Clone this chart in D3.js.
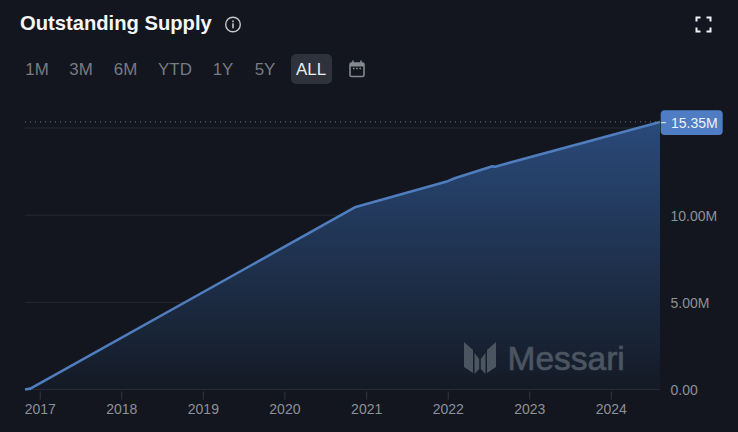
<!DOCTYPE html>
<html>
<head>
<meta charset="utf-8">
<script src="https://cdnjs.cloudflare.com/ajax/libs/d3/7.8.5/d3.min.js"></script>
<style>
  html, body { margin: 0; padding: 0; background: #13161e; overflow: hidden; }
  text { font-family: "Liberation Sans", Arial, sans-serif; }
</style>
</head>
<body>
<div id="container"></div>
<script>
// values
const dates = ["2016-10-27", "2016-11-20", "2020-11-15", "2022-01-01", "2022-02-01", "2022-07-20", "2022-08-01", "2024-08-08"];
const supply = [0, 0.05, 10.47, 11.95, 12.12, 12.8, 12.78, 15.35];
const yTicks = [0, 5, 10, 15];
const yLabels = ["0.00", "5.00M", "10.00M", ""];
const xYears = [2017, 2018, 2019, 2020, 2021, 2022, 2023, 2024];
const ranges = ["1M", "3M", "6M", "YTD", "1Y", "5Y", "ALL"];
const rangeX = [37, 81, 125.5, 175, 223, 265, 311];
const lastLabel = "15.35M";

const width = 738, height = 432;
const plotLeft = 25, plotRight = 660, plotBottom = 389.5;

let svg = d3.select("#container").append("svg").attr("width", width).attr("height", height).style("display", "block");
svg.append("rect").attr("width", width).attr("height", height).attr("fill", "#13161e");

let parse = d3.timeParse("%Y-%m-%d");
let data = dates.map((d, i) => ({ date: parse(d), v: supply[i] }));

let x = d3.scaleTime().domain([data[0].date, data[data.length - 1].date]).range([plotLeft, plotRight]);
let y = d3.scaleLinear().domain([0, 15]).range([plotBottom, 128]);

let defs = svg.append("defs");
let grad = defs.append("linearGradient").attr("id", "areaFill")
  .attr("gradientUnits", "userSpaceOnUse").attr("x1", 0).attr("x2", 0).attr("y1", y(15.35)).attr("y2", plotBottom);
grad.append("stop").attr("offset", "0%").attr("stop-color", "#2a4a7a");
grad.append("stop").attr("offset", "100%").attr("stop-color", "#141a25");

// title row
svg.append("text").attr("x", 20).attr("y", 30).attr("font-size", 20.2).attr("font-weight", 700)
  .attr("fill", "#f4f5f7").text("Outstanding Supply");

let info = svg.append("g").attr("transform", "translate(233,24.5)");
info.append("circle").attr("r", 7.3).attr("fill", "none").attr("stroke", "#c4c6cb").attr("stroke-width", 1.4);
info.append("rect").attr("x", -0.8).attr("y", -1.2).attr("width", 1.6).attr("height", 5).attr("fill", "#c4c6cb");
info.append("rect").attr("x", -0.8).attr("y", -4).attr("width", 1.6).attr("height", 1.7).attr("fill", "#c4c6cb");

// fullscreen corners
let corners = [[-1, -1], [1, -1], [-1, 1], [1, 1]];
svg.append("g").attr("transform", "translate(703.5,24.5)").selectAll("path").data(corners).join("path")
  .attr("d", d => `M${d[0] * 7},${d[1] * 3} V${d[1] * 7} H${d[0] * 3}`)
  .attr("fill", "none").attr("stroke", "#f0f1f3").attr("stroke-width", 2);

// range buttons
svg.append("rect").attr("x", 291).attr("y", 54).attr("width", 41).attr("height", 30).attr("rx", 5).attr("fill", "#2e323b");
svg.selectAll(".range").data(ranges).join("text").attr("class", "range")
  .attr("x", (d, i) => rangeX[i]).attr("y", 75).attr("text-anchor", "middle").attr("font-size", 16.9)
  .attr("fill", d => d == "ALL" ? "#eceef1" : "#777b84").text(d => d);

let cal = svg.append("g").attr("transform", "translate(357,69)").attr("fill", "none").attr("stroke", "#858990");
cal.append("rect").attr("x", -7).attr("y", -6).attr("width", 14).attr("height", 13.5).attr("rx", 1.5).attr("stroke-width", 1.6);
cal.append("rect").attr("x", -7).attr("y", -6).attr("width", 14).attr("height", 3.5).attr("fill", "#858990").attr("stroke", "none");
cal.append("path").attr("d", "M-4,-8.5 V-6 M4,-8.5 V-6").attr("stroke-width", 1.6);
cal.append("path").attr("d", "M-4,-0.5 H-2.4 M-0.8,-0.5 H0.8 M2.4,-0.5 H4").attr("stroke-width", 1.4);

// grid lines
svg.selectAll(".grid").data(yTicks).join("line").attr("class", "grid")
  .attr("x1", plotLeft).attr("x2", plotRight).attr("y1", d => y(d)).attr("y2", d => y(d))
  .attr("stroke", d => d == 0 ? "#3a3f48" : "#262a31").attr("stroke-width", 1);

// area and line
let area = d3.area().x(d => x(d.date)).y0(plotBottom).y1(d => y(d.v));
let line = d3.line().x(d => x(d.date)).y(d => y(d.v));
svg.append("path").datum(data).attr("d", area).attr("fill", "url(#areaFill)");

// dotted last value line
svg.append("line").attr("x1", plotLeft).attr("x2", plotRight).attr("y1", y(15.35)).attr("y2", y(15.35))
  .attr("stroke", "#6f7680").attr("stroke-width", 1).attr("stroke-dasharray", "1 4");

// watermark
let mark = svg.append("g").attr("transform", "translate(480,342)").attr("fill", "#4a5561");
[1, -1].forEach(s => {
  mark.append("path").attr("d", `M${s * -16},0 L${s * -7},8 V31 L${s * -16},25 Z`);
  mark.append("path").attr("d", `M${s * -5.5},11 L${s * -0.8},17 V27 L${s * -5.5},32 Z`);
});
svg.append("text").attr("x", 507.5).attr("y", 370).attr("font-size", 33.5).attr("font-weight", 400)
  .attr("fill", "#4a5561").attr("stroke", "#4a5561").attr("stroke-width", 0.7).text("Messari");

svg.append("path").datum(data).attr("d", line).attr("fill", "none")
  .attr("stroke", "#4f7dbd").attr("stroke-width", 2.6).attr("stroke-linejoin", "round");

// axes
let xAxis = svg.append("g").attr("transform", `translate(0,${plotBottom})`)
  .call(d3.axisBottom(x).tickValues(xYears.map(yr => new Date(yr, 0, 1))).tickFormat(d3.timeFormat("%Y")).tickSize(10).tickPadding(5));
xAxis.select(".domain").remove();
xAxis.selectAll("line").attr("y1", 2).attr("stroke", "#33373f");
xAxis.selectAll("text").attr("fill", "#8d9199").attr("font-size", 14).attr("font-family", "Liberation Sans");

let yAxis = svg.append("g").attr("transform", `translate(${plotRight},1)`)
  .call(d3.axisRight(y).tickValues(yTicks).tickFormat((d, i) => yLabels[i]).tickSize(0).tickPadding(10.5));
yAxis.select(".domain").remove();
yAxis.selectAll("text").attr("fill", "#8d9199").attr("font-size", 14).attr("font-family", "Liberation Sans");

// last value badge
let badgeY = y(15.35) + 0.8;
svg.append("rect").attr("x", 660.7).attr("y", badgeY - 12.4).attr("width", 62).attr("height", 24.8).attr("rx", 4).attr("fill", "#4f7dc4");
svg.append("line").attr("x1", 661).attr("x2", 666).attr("y1", badgeY).attr("y2", badgeY).attr("stroke", "#e8edf5").attr("stroke-width", 1);
svg.append("text").attr("x", 671).attr("y", badgeY + 5).attr("font-size", 14).attr("fill", "#eef2f8").text(lastLabel);
</script>
</body>
</html>
